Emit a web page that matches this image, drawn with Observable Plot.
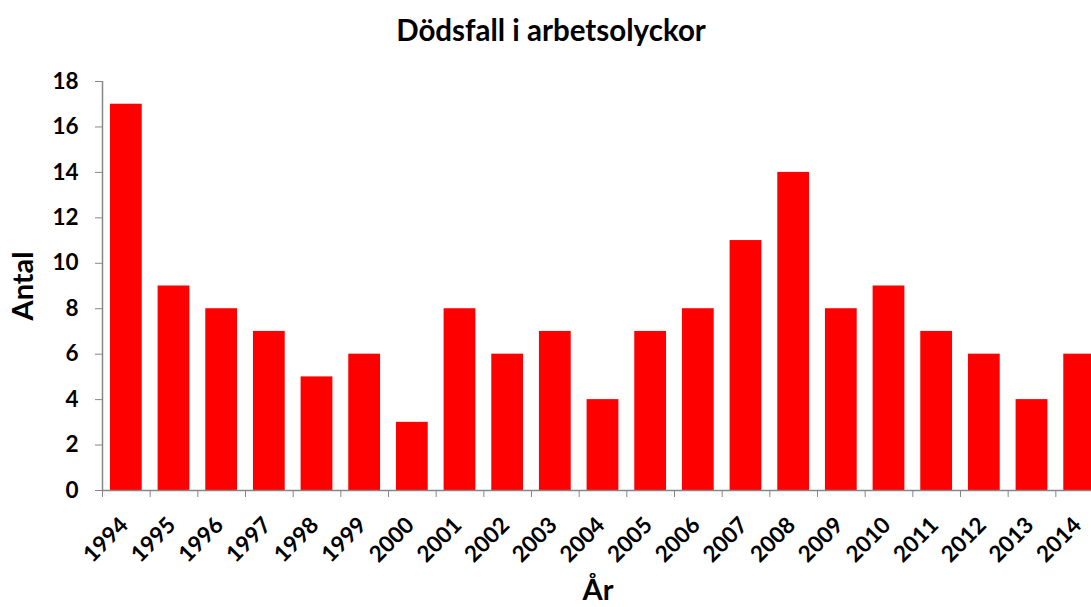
<!DOCTYPE html>
<html>
<head>
<meta charset="utf-8">
<script src="https://cdn.jsdelivr.net/npm/d3@7"></script>
<script src="https://cdn.jsdelivr.net/npm/@observablehq/plot@0.6"></script>
<style>
  html, body { margin: 0; padding: 0; background: #fff; overflow: hidden; }
  #wrap { width: 1091px; height: 607px; overflow: hidden; position: relative; font-family: Lato, "Open Sans", sans-serif; }
  #title { height: 60px; line-height: 59px; text-align: center; font-weight: bold; font-size: 29.5px; color: #000; width: 1102px; }
  #chart svg { max-width: none !important; }
</style>
</head>
<body>
<div id="wrap">
  <div id="title">Dödsfall i arbetsolyckor</div>
  <div id="chart"></div>
</div>
<script>
const years = ["1994","1995","1996","1997","1998","1999","2000","2001","2002","2003","2004","2005","2006","2007","2008","2009","2010","2011","2012","2013","2014"];
const deaths = [17, 9, 8, 7, 5, 6, 3, 8, 6, 7, 4, 7, 8, 11, 14, 8, 9, 7, 6, 4, 6];
const yTicks = [0, 2, 4, 6, 8, 10, 12, 14, 16, 18];

const data = years.map((y, i) => ({year: y, value: deaths[i]}));

const W = 1103, ML = 102, MR = 0;
const step = (W - ML - MR) / years.length;

const chart = Plot.plot({
  width: W,
  height: 547,
  marginTop: 21,
  marginBottom: 117,
  marginLeft: ML,
  marginRight: MR,
  style: {fontFamily: "Lato, 'Open Sans', sans-serif", color: "#000", background: "#fff", overflow: "visible", maxWidth: "none"},
  x: {domain: years, paddingInner: 1/3, paddingOuter: 1/6, round: false, label: null},
  y: {domain: [0, 18], label: null},
  marks: [
    Plot.barY(data, {x: "year", y: "value", fill: "#ff0000"}),
    Plot.axisY({ticks: yTicks, tickSize: 7, tickPadding: 17, stroke: "#868686", fill: "#000", fontSize: 22.5, fontWeight: "bold", label: null}),
    Plot.text(years, {x: d => d, frameAnchor: "bottom", textAnchor: "end", lineAnchor: "middle", rotate: -45, dx: -2, dy: 31, fontSize: 22.5, fontWeight: "bold", fill: "#000"}),
    Plot.axisX({tickSize: 7, text: null, stroke: "#868686", dx: -step / 2, label: null}),
    Plot.ruleY([0], {stroke: "#868686", strokeWidth: 1.5}),
    Plot.ruleX([0], {x: () => years[0], dx: -step / 2, y1: 0, y2: 18, stroke: "#868686", strokeWidth: 1.5}),
    Plot.text(["Antal"], {frameAnchor: "left", textAnchor: "middle", dx: -79, rotate: -90, fontSize: 29, fontWeight: "bold", fill: "#000"}),
    Plot.text(["År"], {frameAnchor: "bottom", dx: -5, dy: 109, fontSize: 29, fontWeight: "bold", fill: "#000"})
  ]
});
document.getElementById("chart").appendChild(chart);
</script>
</body>
</html>
